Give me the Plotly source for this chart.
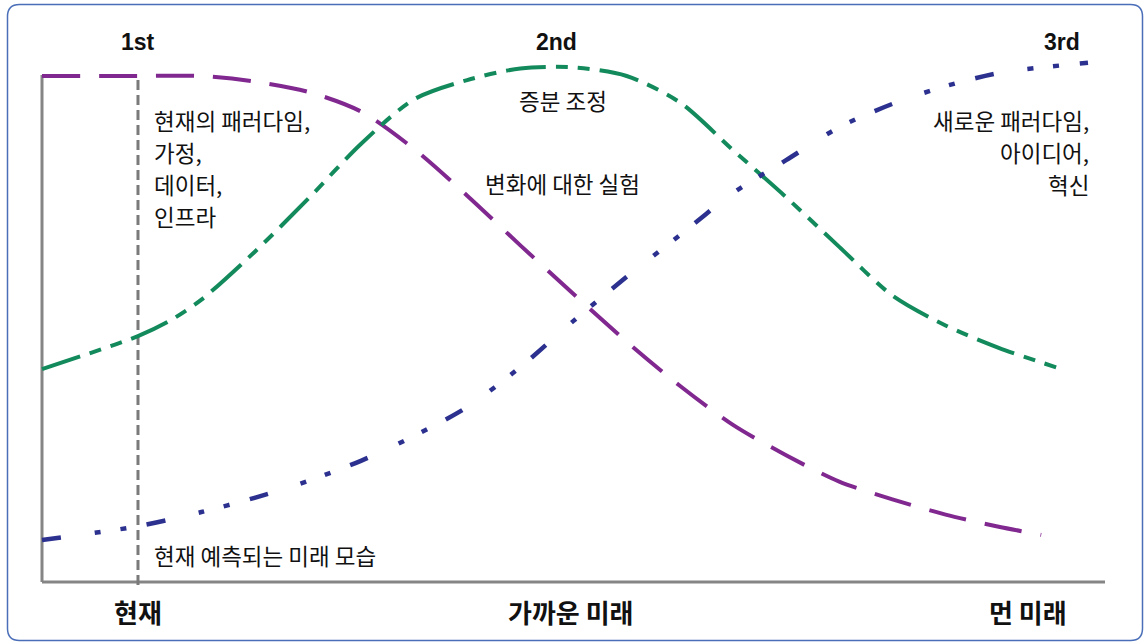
import plotly.graph_objects as go

# Time axis: 0 = start, ~9 = present, 100 = far future. Level axis: 0..100+
present_x = 9.03

# Horizon 1: current paradigm (declines over time)
h1_x = [0, 9.03, 15, 20, 25, 30, 35, 40, 45, 50, 55, 60, 65, 70, 75, 80, 85, 90, 94]
h1_y = [99.8, 99.8, 99.8, 98.7, 96.7, 92.8, 85.4, 76.2, 66.4, 56.8, 47.4, 38.7, 31.0, 25.0,
        19.8, 16.3, 13.3, 10.9, 9.3]

# Horizon 2: incremental adjustment (rises, peaks, falls)
h2_x = [0, 9.03, 12, 15, 20, 25, 30, 35, 40, 45, 50, 55, 60, 65, 70, 75, 80, 85, 90, 95.6]
h2_y = [42.0, 48.5, 51.5, 55.7, 65.1, 75.5, 86.4, 95.2, 99.0, 101.3, 101.5, 99.8, 94.6, 85.2,
        75.9, 66.1, 56.5, 50.6, 46.2, 42.2]

# Horizon 3: new paradigm (grows over time)
h3_x = [0, 9.03, 15, 20, 25, 30, 35, 40, 45, 50, 55, 60, 65, 70, 75, 80, 85, 90, 95, 98.4]
h3_y = [8.3, 11.0, 13.8, 16.6, 19.9, 23.9, 28.8, 34.5, 42.4, 51.5, 60.2, 68.4, 76.7, 83.2,
        89.7, 94.3, 97.8, 100.4, 101.7, 102.4]

horizon_labels = ["1st", "2nd", "3rd"]
horizon_label_x = [present_x, 48.4, 96.0]
time_labels = ["현재", "가까운 미래", "먼 미래"]
time_label_x = [present_x, 49.8, 92.8]

left_notes = ["현재의 패러다임,", "가정,", "데이터,", "인프라"]
mid_notes = ["증분 조정", "변화에 대한 실험"]
right_notes = ["새로운 패러다임,", "아이디어,", "혁신"]
bottom_note = "현재 예측되는 미래 모습"

PURPLE = "#80288f"
GREEN = "#138a5c"
NAVY = "#2c3190"
GRAY = "#858585"
KR = "Noto Sans CJK KR"
NOTE_SIZE = 22.5

fig = go.Figure()

fig.add_trace(go.Scatter(
    x=h1_x, y=h1_y, mode="lines",
    line=dict(color=PURPLE, width=4, dash="38px,19px", shape="spline", smoothing=0.8),
    hoverinfo="skip"))
fig.add_trace(go.Scatter(
    x=h2_x, y=h2_y, mode="lines",
    line=dict(color=GREEN, width=4, dash="40px,10px,12px,10px,12px,10px",
              shape="spline", smoothing=0.8),
    hoverinfo="skip"))
fig.add_trace(go.Scatter(
    x=h3_x, y=h3_y, mode="lines",
    line=dict(color=NAVY, width=4.5, dash="19px,34px,6px,20px,6px,21px",
              shape="spline", smoothing=0.8),
    hoverinfo="skip"))

# Axes and the "present" marker line
fig.add_shape(type="line", x0=0, x1=0, y0=0, y1=100, layer="below",
              line=dict(color=GRAY, width=3))
fig.add_shape(type="line", x0=0, x1=100, y0=0, y1=0, layer="below",
              line=dict(color=GRAY, width=3))
fig.add_shape(type="line", x0=present_x, x1=present_x, y0=-0.6, y1=100, layer="below",
              line=dict(color="#7a7a7a", width=3, dash="10px,5px"))

# Rounded frame around the whole figure
l, r, b, t = 7.5 / 1148, 1142.5 / 1148, 1 - 640.5 / 643, 1 - 4.5 / 643
rx, ry = 12 / 1148, 12 / 643
frame = (f"M {l+rx},{t} L {r-rx},{t} Q {r},{t} {r},{t-ry} L {r},{b+ry} "
         f"Q {r},{b} {r-rx},{b} L {l+rx},{b} Q {l},{b} {l},{b+ry} "
         f"L {l},{t-ry} Q {l},{t} {l+rx},{t} Z")
fig.add_shape(type="path", path=frame, xref="paper", yref="paper",
              line=dict(color="#4a6fb8", width=1.5))

ann = []
for txt, xv in zip(horizon_labels, horizon_label_x):
    ann.append(dict(x=xv, y=106.5, text=f"<b>{txt}</b>", showarrow=False,
                    xanchor="center", yanchor="middle",
                    font=dict(family="Liberation Sans", size=23, color="#111")))
for txt, xv in zip(time_labels, time_label_x):
    ann.append(dict(x=xv, y=-5.9, text=f"<b>{txt}</b>", showarrow=False,
                    xanchor="center", yanchor="middle",
                    font=dict(family=KR, size=26, color="#111")))

for txt, yv in zip(left_notes, [91.1, 84.8, 78.5, 72.2]):
    ann.append(dict(x=10.35, y=yv, text=txt, showarrow=False,
                    xanchor="left", yanchor="middle",
                    font=dict(family=KR, size=NOTE_SIZE, color="#111")))
for txt, yv in zip(mid_notes, [95.1, 78.7]):
    ann.append(dict(x=49.0, y=yv, text=txt, showarrow=False,
                    xanchor="center", yanchor="middle",
                    font=dict(family=KR, size=NOTE_SIZE, color="#111")))
for txt, yv in zip(right_notes, [91.1, 84.8, 78.5]):
    ann.append(dict(x=98.65, y=yv, text=txt, showarrow=False,
                    xanchor="right", yanchor="middle",
                    font=dict(family=KR, size=NOTE_SIZE, color="#111")))
ann.append(dict(x=10.35, y=5.3, text=bottom_note, showarrow=False,
                xanchor="left", yanchor="middle",
                font=dict(family=KR, size=NOTE_SIZE, color="#111")))

fig.update_layout(
    width=1148, height=643,
    margin=dict(l=0, r=0, t=0, b=0),
    paper_bgcolor="white", plot_bgcolor="white",
    showlegend=False,
    xaxis=dict(range=[-3.951, 104.045], visible=False, fixedrange=True),
    yaxis=dict(range=[-12.03, 114.79], visible=False, fixedrange=True),
    annotations=ann,
)

fig.write_html("out.html", config={"displayModeBar": False})
